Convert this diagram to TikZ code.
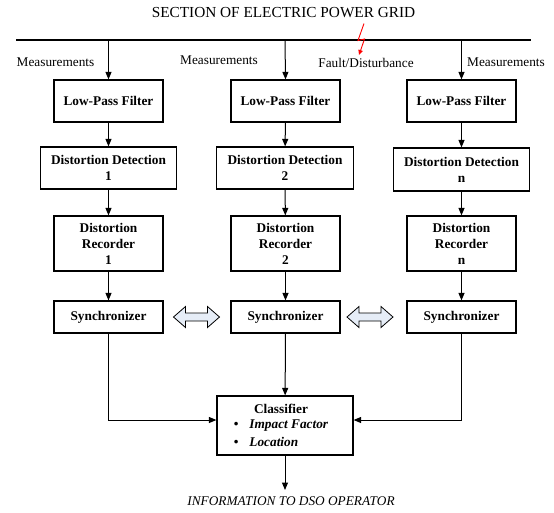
\documentclass[tikz,border=0pt]{standalone}
\usepackage{fontspec}
\setmainfont{Liberation Serif}
\usetikzlibrary{arrows.meta}
\definecolor{dafill}{HTML}{E6EDF7}
\begin{document}
\begin{tikzpicture}[x=1pt,y=-1pt,
  box/.style={draw, line width=1.2pt, fill=white, font=\fontsize{13.3}{16}\selectfont\bfseries, align=center, inner sep=0pt},
  lpfbox/.style={box, minimum width=109pt, minimum height=42pt},
  ddbox/.style={box, minimum width=136.5pt, minimum height=42pt},
  recbox/.style={box, minimum width=109pt, minimum height=55pt},
  syncbox/.style={box, minimum width=109pt, minimum height=32pt},
  lbl/.style={font=\fontsize{13.3}{16}\selectfont, inner sep=0pt},
  arr/.style={-{Triangle[length=7.5pt,width=6pt]}, line width=1pt},
  dblarrow/.style={draw, line width=0.8pt, fill=dafill, line join=miter}]
\useasboundingbox (0,0) rectangle (554,512);

% title and bus
\node[lbl, font=\fontsize{15.3}{18}\selectfont] (title) at (283.5,13) {SECTION OF ELECTRIC POWER GRID};
\coordinate (busL) at (16,40);
\coordinate (busR) at (531,40);
\draw[line width=2pt] (busL) -- (busR);
\coordinate (b1) at (108.5,40);
\coordinate (b2) at (285,40);
\coordinate (b3) at (461.5,40);

% labels
\node[lbl] (m1) at (55.5,62) {Measurements};
\node[lbl] (m2) at (219,60) {Measurements};
\node[lbl] (m3) at (506,62) {Measurements};
\node[lbl] (fault) at (366,63) {Fault/Disturbance};

% lightning
\coordinate (lt0) at (364,23.5);
\coordinate (lt1) at (358,40.5);
\coordinate (lt2) at (364.5,39);
\coordinate (lt3) at (359,55);
\draw[red, line width=0.9pt, -{Triangle[length=5pt,width=4.5pt]}] (lt0) -- (lt1) -- (lt2) -- (lt3);

% low-pass filters
\node[lpfbox] (lpf1) at (108.5,101) {Low-Pass Filter};
\node[lpfbox] (lpf2) at (285.5,101) {Low-Pass Filter};
\node[lpfbox] (lpf3) at (461.5,101) {Low-Pass Filter};

% distortion detection
\node[ddbox] (dd1) at (108.5,168) {Distortion Detection\\1};
\node[ddbox] (dd2) at (285,168) {Distortion Detection\\2};
\node[ddbox, minimum height=43pt] (dd3) at (461.5,169.5) {Distortion Detection\\n};

% recorders
\node[recbox] (rec1) at (108.5,243.5) {Distortion\\Recorder\\1};
\node[recbox] (rec2) at (285.5,243.5) {Distortion\\Recorder\\2};
\node[recbox] (rec3) at (461.5,243.5) {Distortion\\Recorder\\n};

% synchronizers
\node[syncbox] (s1) at (108.5,317) {Synchronizer};
\node[syncbox] (s2) at (285.5,317) {Synchronizer};
\node[syncbox] (s3) at (461.5,317) {Synchronizer};

% classifier
\node[box, minimum width=136pt, minimum height=59pt, font=\fontsize{13.3}{17}\selectfont\bfseries] (cls) at (285,425.5)
  {\hspace{-8pt}\begin{tabular}{@{}l@{}}\multicolumn{1}{c}{\raisebox{-1.5pt}{Classifier}}\\[0.3pt]
   \textbullet\hspace{11pt}\textit{Impact Factor}\\[0.3pt]
   \textbullet\hspace{11pt}\textit{Location}\end{tabular}};

% output
\coordinate (outend) at (285,490);
\node[lbl, font=\fontsize{13.3}{16}\selectfont\itshape] (out) at (291,501) {INFORMATION TO DSO OPERATOR};

% vertical arrows
\draw[arr] (b1) -- (lpf1.north);
\draw[arr] (b2) -- (lpf2.north);
\draw[arr] (b3) -- (lpf3.north);
\draw[arr] (lpf1) -- (dd1);
\draw[arr] (lpf2) -- (dd2);
\draw[arr] (lpf3) -- (dd3);
\draw[arr] (dd1) -- (rec1);
\draw[arr] (dd2) -- (rec2);
\draw[arr] (dd3) -- (rec3);
\draw[arr] (rec1) -- (s1);
\draw[arr] (rec2) -- (s2);
\draw[arr] (rec3) -- (s3);
\draw[arr] (s2) -- (cls);
\draw[arr] (s1.south) |- ([yshift=5.5pt]cls.west);
\draw[arr] (s3.south) |- ([yshift=5.5pt]cls.east);
\draw[arr] (cls.south) -- (outend);

% double arrows
\draw[dblarrow] (173.5,317) -- (185.5,306.5) -- (185.5,313) -- (207.5,313) -- (207.5,306.5) -- (219.5,317)
  -- (207.5,327.5) -- (207.5,321) -- (185.5,321) -- (185.5,327.5) -- cycle;
\draw[dblarrow] (347,317) -- (359,306.5) -- (359,313) -- (381,313) -- (381,306.5) -- (393,317)
  -- (381,327.5) -- (381,321) -- (359,321) -- (359,327.5) -- cycle;
\end{tikzpicture}
\end{document}
